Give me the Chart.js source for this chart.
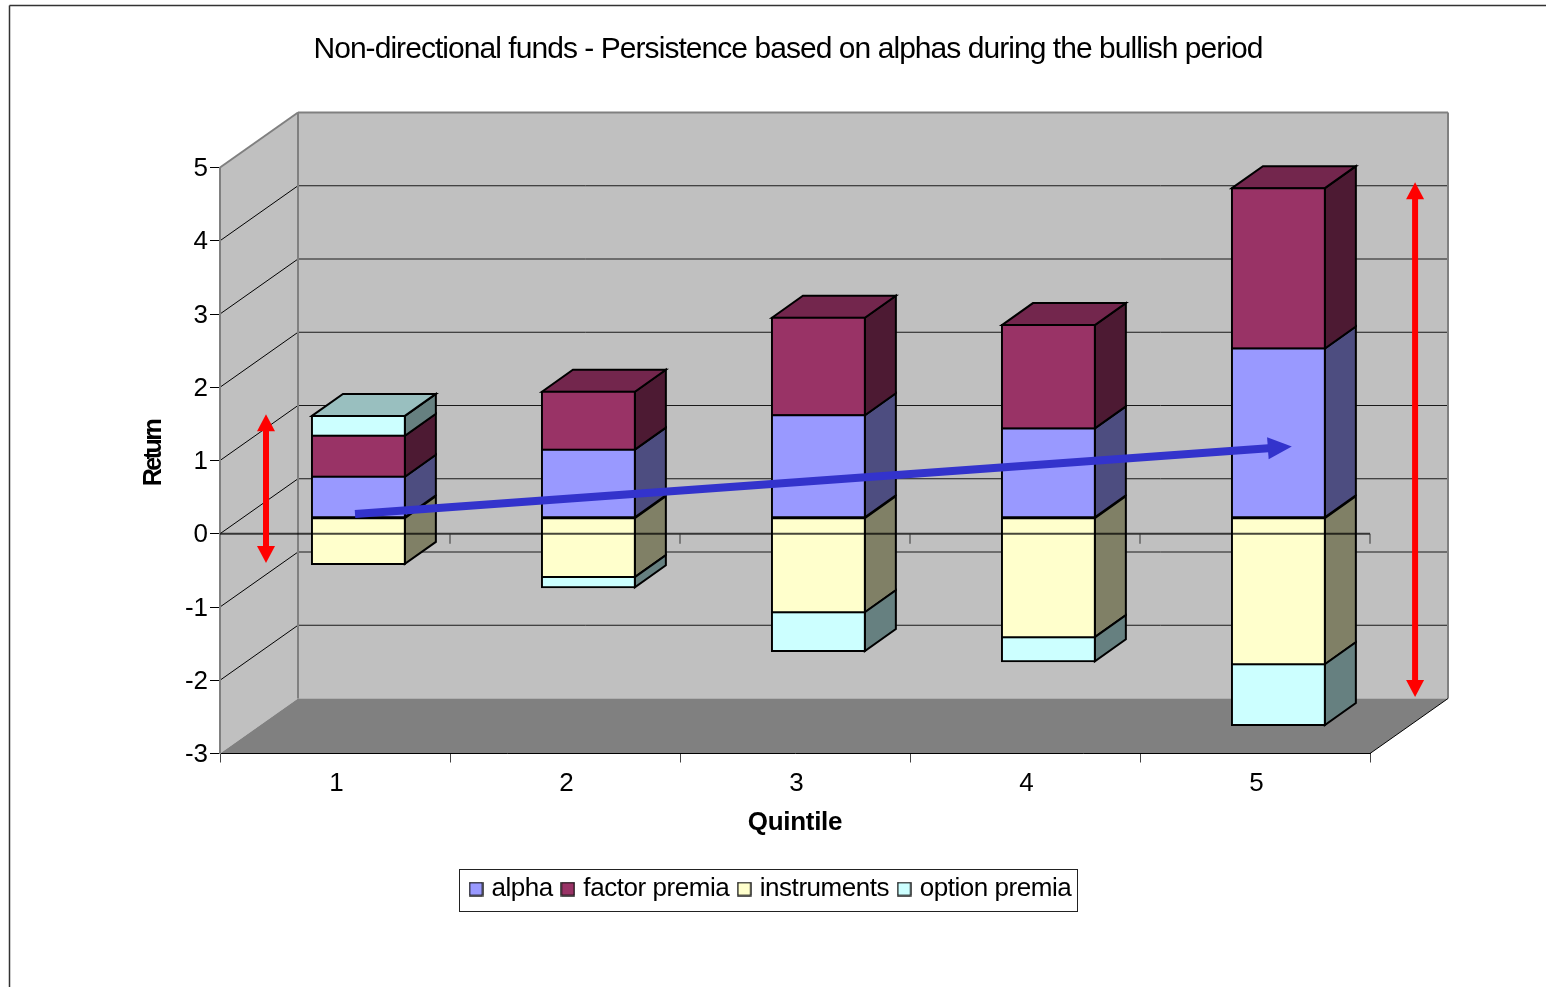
<!DOCTYPE html>
<html>
<head>
<meta charset="utf-8">
<title>Non-directional funds</title>
<script src="https://cdn.jsdelivr.net/npm/chart.js@4"></script>
<style>
  html, body { margin: 0; background: #fff; }
  canvas { display: block; }
</style>
</head>
<body>
<canvas id="chart" width="1546" height="987"></canvas>
<script>
const quintiles = ["1", "2", "3", "4", "5"];
const alpha = [0.56, 0.93, 1.40, 1.22, 2.31];
const factorPremia = [0.56, 0.79, 1.33, 1.41, 2.19];
const instruments = [-0.63, -0.81, -1.29, -1.63, -2.00];
const optionPremia = [0.27, -0.14, -0.53, -0.33, -0.83];

// arrows, x in category index, y in axis units
const leftArrowX = [-0.30, -0.30];
const leftArrowY = [-0.40, 1.63];
const rightArrowX = [4.696, 4.696];
const rightArrowY = [-2.23, 4.80];
const trendArrowX = [0.087, 4.16];
const trendArrowY = [0.27, 1.19];

const frontColors = ["#9999FF", "#993366", "#FFFFCC", "#CCFFFF"];
const sideColors = ["#4D4D80", "#4D1A33", "#808066", "#668080"];
const topColors = ["#7373BF", "#73264D", "#BFBF99", "#99BFBF"];

const font = "'Liberation Sans', Arial, sans-serif";
const wall = { x: 78, y: -55 };
const barShift = { x: 23.4, y: -16 };
const barDepth = { x: 31, y: -22 };

function poly(ctx, pts, fill, stroke, lw) {
  ctx.beginPath();
  pts.forEach((p, i) => i ? ctx.lineTo(p[0], p[1]) : ctx.moveTo(p[0], p[1]));
  ctx.closePath();
  if (fill) { ctx.fillStyle = fill; ctx.fill(); }
  if (stroke) { ctx.strokeStyle = stroke; ctx.lineWidth = lw; ctx.stroke(); }
}

function line(ctx, x1, y1, x2, y2, color, lw) {
  ctx.beginPath();
  ctx.moveTo(x1, y1);
  ctx.lineTo(x2, y2);
  ctx.strokeStyle = color;
  ctx.lineWidth = lw;
  ctx.stroke();
}

function head(ctx, x1, y1, x2, y2, color, w, len) {
  const a = Math.atan2(y2 - y1, x2 - x1);
  const bx = x2 - Math.cos(a) * len;
  const by = y2 - Math.sin(a) * len;
  const nx = -Math.sin(a) * w / 2;
  const ny = Math.cos(a) * w / 2;
  poly(ctx, [[x2, y2], [bx + nx, by + ny], [bx - nx, by - ny]], color);
}

function spaced(chart, box, method, px) {
  const orig = box[method];
  box[method] = function () {
    chart.ctx.save();
    chart.ctx.letterSpacing = px + "px";
    orig.apply(this, arguments);
    chart.ctx.restore();
  };
}

// legend swatch as an image so it can sit closer to its text
function swatch(color) {
  const c = document.createElement("canvas");
  c.width = 15;
  c.height = 15;
  const g = c.getContext("2d");
  g.fillStyle = color;
  g.fillRect(1, 1, 13, 13);
  g.strokeStyle = "#111";
  g.lineWidth = 1.4;
  g.strokeRect(1, 1, 13, 13);
  return c;
}

const chart3d = {
  id: "chart3d",

  afterLayout(chart) {
    chart.titleBlock.left = 30;
    chart.titleBlock.right = 1546;
    chart.legend.left = 461;
    chart.legend.right = 1546;
    chart.legend.top = 863.5;
    chart.legend.bottom = 915;
    if (chart.$wrapped) return;
    chart.$wrapped = true;
    spaced(chart, chart.titleBlock, "draw", -0.95);
    spaced(chart, chart.legend, "draw", -0.45);
    spaced(chart, chart.scales.x, "drawTitle", -0.3);
    spaced(chart, chart.scales.y, "drawTitle", -2.5);
    const yTitle = chart.scales.y.drawTitle;
    chart.scales.y.drawTitle = function () {
      chart.ctx.save();
      chart.ctx.translate(0, -7);
      yTitle.call(this);
      chart.ctx.restore();
    };
  },

  beforeDraw(chart) {
    const { ctx, chartArea: a, scales: { y } } = chart;
    ctx.save();
    ctx.fillStyle = "#fff";
    ctx.fillRect(0, 0, chart.width, chart.height);

    // page frame
    line(ctx, 9.5, 5.5, 1546, 5.5, "#333", 1.5);
    line(ctx, 9.5, 5.5, 9.5, 987, "#333", 1.5);

    const L = a.left, R = a.right, T = a.top, B = a.bottom;
    const dx = wall.x, dy = wall.y;

    poly(ctx, [[L + dx, T + dy], [R + dx, T + dy], [R + dx, B + dy], [L + dx, B + dy]], "#C0C0C0");
    poly(ctx, [[L, T], [L + dx, T + dy], [L + dx, B + dy], [L, B]], "#C0C0C0");
    poly(ctx, [[L, B], [L + dx, B + dy], [R + dx, B + dy], [R, B]], "#808080");

    y.ticks.forEach(t => {
      if (t.value === y.min || t.value === y.max) return;
      const py = y.getPixelForValue(t.value);
      line(ctx, L, py, L + dx, py + dy, "#000", 1);
      line(ctx, L + dx, py + dy, R + dx, py + dy, "#1a1a1a", 1);
    });

    line(ctx, L, T, L + dx, T + dy, "#808080", 2);
    line(ctx, L + dx, T + dy, R + dx, T + dy, "#808080", 2);
    line(ctx, L + dx, T + dy, L + dx, B + dy, "#808080", 2);
    line(ctx, R + dx, T + dy, R + dx, B + dy, "#808080", 2);
    line(ctx, R, B, R + dx, B + dy, "#000", 1);

    // legend frame
    ctx.fillStyle = "#fff";
    ctx.fillRect(460, 869, 618, 42);
    ctx.strokeStyle = "#222";
    ctx.lineWidth = 1;
    ctx.strokeRect(459.5, 869.5, 618, 42);
    ctx.restore();
  },

  beforeDatasetsDraw(chart) {
    const { ctx } = chart;
    ctx.save();
    ctx.translate(barShift.x, barShift.y);
    const dx = barDepth.x, dy = barDepth.y;

    quintiles.forEach((q, i) => {
      let best = null;
      chart.data.datasets.forEach((ds, d) => {
        const bar = chart.getDatasetMeta(d).data[i];
        const top = Math.min(bar.y, bar.base);
        const bottom = Math.max(bar.y, bar.base);
        const right = bar.x + bar.width / 2;
        const left = bar.x - bar.width / 2;
        poly(ctx, [[right, top], [right + dx, top + dy], [right + dx, bottom + dy], [right, bottom]],
          sideColors[d], "#000", 2);
        if (!best || top < best.top) best = { top, left, right, d };
      });
      poly(ctx, [[best.left, best.top], [best.left + dx, best.top + dy],
        [best.right + dx, best.top + dy], [best.right, best.top]], topColors[best.d], "#000", 2);
    });
  },

  afterDatasetsDraw(chart) {
    const { ctx, chartArea: a, scales: { x, y } } = chart;
    ctx.restore();
    ctx.save();

    // zero axis sits over the bars
    const zero = y.getPixelForValue(0);
    line(ctx, a.left, zero, a.right, zero, "rgba(0,0,0,0.72)", 2);
    quintiles.forEach((q, i) => {
      const px = x.getPixelForValue(i + 0.5);
      line(ctx, px, zero, px, zero + 10, "#333", 1);
    });

    [[leftArrowX, leftArrowY], [rightArrowX, rightArrowY]].forEach(([ax, ay]) => {
      const x1 = x.getPixelForValue(ax[0]), y1 = y.getPixelForValue(ay[0]);
      const x2 = x.getPixelForValue(ax[1]), y2 = y.getPixelForValue(ay[1]);
      line(ctx, x1, y1 - 14, x2, y2 + 14, "#FF0000", 6);
      head(ctx, x1, y1 - 17, x1, y1, "#FF0000", 18, 17);
      head(ctx, x2, y2 + 17, x2, y2, "#FF0000", 18, 17);
    });

    const tx1 = x.getPixelForValue(trendArrowX[0]), ty1 = y.getPixelForValue(trendArrowY[0]);
    const tx2 = x.getPixelForValue(trendArrowX[1]), ty2 = y.getPixelForValue(trendArrowY[1]);
    line(ctx, tx1, ty1, tx2 - 20, ty2 + 1.5, "#3333CC", 8);
    head(ctx, tx1, ty1, tx2, ty2, "#3333CC", 22, 24);
    ctx.restore();
  }
};

const seriesNames = ["alpha", "factor premia", "instruments", "option premia"];
const seriesValues = [alpha, factorPremia, instruments, optionPremia];

new Chart(document.getElementById("chart"), {
  type: "bar",
  data: {
    labels: quintiles,
    datasets: seriesNames.map((name, i) => ({
      label: name,
      data: seriesValues[i],
      backgroundColor: frontColors[i],
      borderColor: "#000",
      borderWidth: 2,
      borderSkipped: false,
      inflateAmount: 1,
      categoryPercentage: 1,
      barPercentage: 0.404,
      clip: false
    }))
  },
  plugins: [chart3d],
  options: {
    responsive: false,
    animation: false,
    layout: { padding: { left: 135, right: 176, top: 0, bottom: 0 } },
    plugins: {
      tooltip: { enabled: false },
      title: {
        display: true,
        text: "Non-directional funds - Persistence based on alphas during the bullish period",
        color: "#000",
        font: { family: font, size: 30, weight: "normal", lineHeight: 1.2 },
        padding: { top: 32, bottom: 99.5 }
      },
      legend: {
        position: "bottom",
        align: "start",
        labels: {
          color: "#000",
          font: { family: font, size: 26 },
          usePointStyle: true,
          pointStyleWidth: 5,
          boxHeight: 14,
          padding: 12.5,
          generateLabels(chart) {
            const items = Chart.defaults.plugins.legend.labels.generateLabels(chart);
            items.forEach((item, i) => { item.pointStyle = swatch(frontColors[i]); });
            return items;
          }
        }
      }
    },
    scales: {
      x: {
        stacked: true,
        afterFit: s => { s.height = 233.5 - s.chart.legend.height; },
        border: { color: "#000", width: 1 },
        grid: { drawOnChartArea: false, tickLength: 9, tickColor: "#444" },
        ticks: { color: "#000", font: { family: font, size: 26 }, padding: 6, labelOffset: 1.5, maxRotation: 0 },
        title: {
          display: true,
          text: "Quintile",
          color: "#000",
          font: { family: font, size: 26, weight: "bold" },
          padding: { top: 0, bottom: 100 }
        }
      },
      y: {
        stacked: true,
        min: -3,
        max: 5,
        afterFit: s => { s.width = 85; },
        border: { color: "#808080", width: 2 },
        grid: { drawOnChartArea: false, tickLength: 10, tickColor: "#000" },
        ticks: { stepSize: 1, color: "#000", font: { family: font, size: 26 }, padding: 2, labelOffset: 1.5 },
        title: {
          display: true,
          text: "Return",
          color: "#000",
          font: { family: font, size: 25, weight: "bold" },
          padding: { top: 4, bottom: 0 }
        }
      }
    }
  }
});
</script>
</body>
</html>
